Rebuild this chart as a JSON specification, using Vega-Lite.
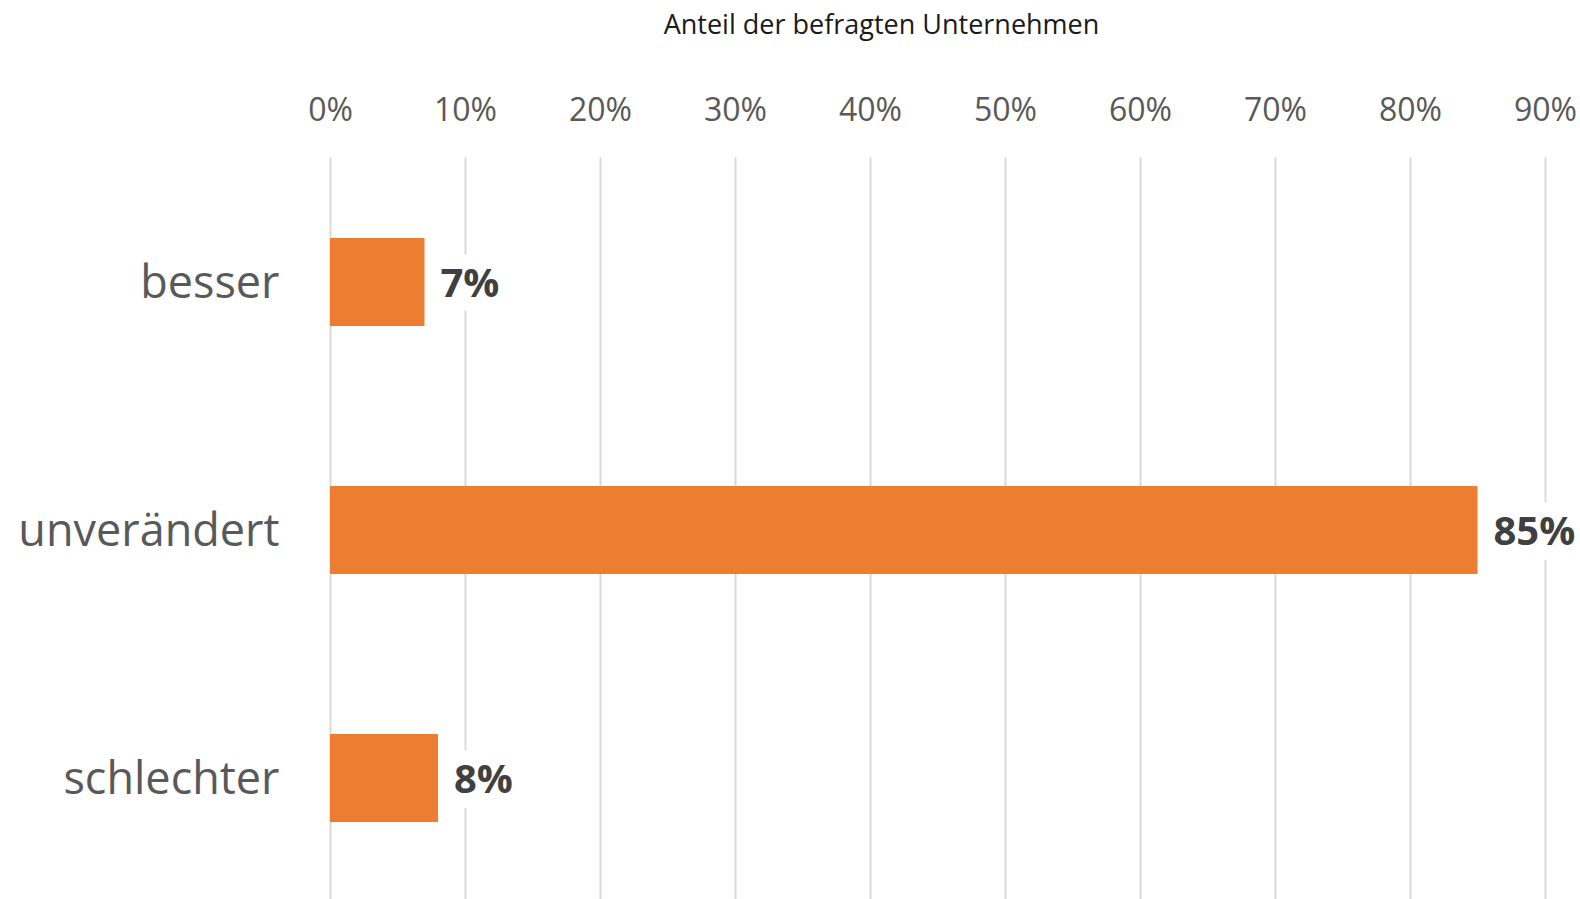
{
  "$schema": "https://vega.github.io/schema/vega-lite/v6.json",
  "autosize": "none",
  "width": 1215,
  "height": 742,
  "padding": {"left": 330, "top": 157, "right": 35, "bottom": 0},
  "background": "white",
  "config": {"view": {"stroke": null}, "font": "Open Sans"},
  "data": {
    "values": [
      {"Kategorie": "besser", "Anteil": 0.07},
      {"Kategorie": "unverändert", "Anteil": 0.85},
      {"Kategorie": "schlechter", "Anteil": 0.08}
    ]
  },
  "encoding": {
    "y": {
      "field": "Kategorie",
      "type": "nominal",
      "sort": null,
      "scale": {"paddingInner": 0.645, "paddingOuter": 0.3185, "align": 0.513},
      "axis": {
        "title": null,
        "domain": false,
        "ticks": false,
        "labelFontSize": 45,
        "labelColor": "#595959",
        "labelPadding": 51,
        "labelLimit": 0,
        "labelOffset": 2,
        "labelFont": "Open Sans"
      }
    },
    "x": {
      "field": "Anteil",
      "type": "quantitative",
      "scale": {"domain": [0, 0.9], "nice": false},
      "axis": {
        "orient": "top",
        "format": ".0%",
        "values": [0, 0.1, 0.2, 0.3, 0.4, 0.5, 0.6, 0.7, 0.8, 0.9],
        "title": "Anteil der befragten Unternehmen",
        "titleFontSize": 27,
        "titleFontWeight": "normal",
        "titleColor": "#1a1a1a",
        "titlePadding": 55,
        "titleX": 551,
        "titleAlign": "center",
        "domain": false,
        "ticks": false,
        "grid": true,
        "gridColor": "#d9d9d9",
        "gridWidth": 2,
        "labelFontSize": 32,
        "labelColor": "#595959",
        "labelPadding": 30,
        "labelFlush": false
      }
    }
  },
  "layer": [
    {"mark": {"type": "bar", "color": "#ED7D31"}},
    {
      "mark": {
        "type": "text",
        "align": "left",
        "baseline": "middle",
        "dx": 16,
        "dy": 3,
        "fontSize": 40,
        "fontWeight": "bold",
        "stroke": "white",
        "strokeWidth": 30,
        "strokeJoin": "round",
        "color": "white"
      },
      "encoding": {"text": {"field": "Anteil", "type": "quantitative", "format": ".0%"}}
    },
    {
      "mark": {
        "type": "text",
        "align": "left",
        "baseline": "middle",
        "dx": 16,
        "dy": 3,
        "fontSize": 40,
        "fontWeight": "bold",
        "color": "#404040"
      },
      "encoding": {"text": {"field": "Anteil", "type": "quantitative", "format": ".0%"}}
    }
  ]
}
